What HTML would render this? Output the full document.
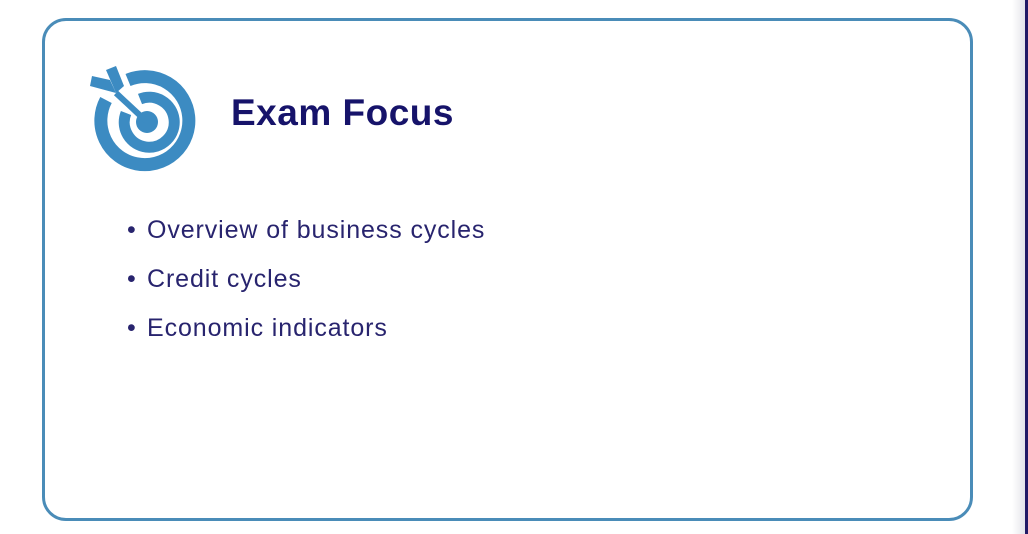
<!DOCTYPE html>
<html><head><meta charset="utf-8"><style>
body{margin:0;width:1028px;height:534px;background:#fff;position:relative;overflow:hidden;font-family:"Liberation Sans",sans-serif}
.edge{position:absolute;left:1012px;top:0;width:13px;height:534px;background:linear-gradient(90deg,#fff,#e4e4ea)}
.bar{position:absolute;left:1025px;top:0;width:3px;height:534px;background:#221a66}
.card{position:absolute;left:42px;top:18px;width:925px;height:497px;border:3px solid #4a8cb8;border-radius:24px}
.title{position:absolute;left:231px;top:92px;font-size:37px;font-weight:bold;color:#16136a;letter-spacing:0.5px}
.item{position:absolute;left:127px;font-size:25px;color:#28246e;letter-spacing:0.9px}
.item span{display:inline-block;width:20px}
</style></head><body>
<div class="edge"></div>
<div class="bar"></div>
<div class="card"></div>
<svg style="position:absolute;left:0;top:0" width="260" height="200">
<g fill="none" stroke="#3c8bc2">
<path d="M128 80 A44 44 0 1 1 106 100" stroke-width="13"/>
<path d="M140 99 A25 25 0 1 1 126 113" stroke-width="11"/>
</g>
<circle cx="147" cy="122" r="11" fill="#3c8bc2"/>
<line x1="146" y1="121" x2="116" y2="93" stroke="#3c8bc2" stroke-width="6"/>
<polygon points="116,93 106,70 116,66 124,86" fill="#3c8bc2"/>
<polygon points="116,93 90,86 92,76 110,80" fill="#3c8bc2"/>
</svg>
<div class="title">Exam Focus</div>
<div class="item" style="top:216px"><span>•</span>Overview of business cycles</div>
<div class="item" style="top:265px"><span>•</span>Credit cycles</div>
<div class="item" style="top:314px"><span>•</span>Economic indicators</div>
</body></html>
